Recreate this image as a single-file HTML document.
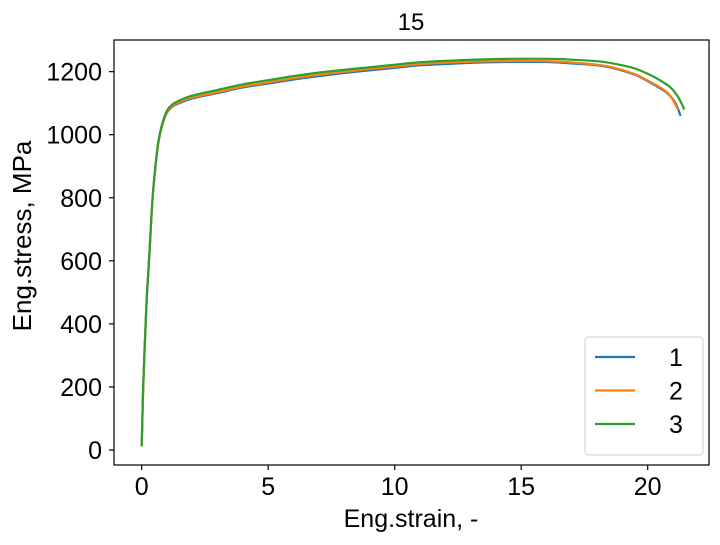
<!DOCTYPE html>
<html><head><meta charset="utf-8"><style>
body{margin:0;background:#fff;}
svg text{font-family:"Liberation Sans",Arial,sans-serif;fill:#000;}
</style></head><body>
<svg id="chart" width="720" height="540">
<rect x="0" y="0" width="720" height="540" fill="#fff"/>
<text x="411" y="30" font-size="24" text-anchor="middle">15</text>
<g id="plot"></g>
<rect x="114" y="40" width="595" height="425" fill="none" stroke="#000" stroke-width="1.2"/>
<g id="axes"></g>
<text x="411" y="527" font-size="25" text-anchor="middle">Eng.strain, -</text>
<text transform="translate(31,236) rotate(-90)" font-size="26" text-anchor="middle">Eng.stress, MPa</text>
<g>
<rect x="585" y="337" width="118" height="118" rx="4" fill="#fff" stroke="#ccc" stroke-width="1"/>
<g id="legend"></g>
</g>
</svg>
<script>
const xTicks=[0,5,10,15,20];
const yTicks=[0,200,400,600,800,1000,1200];
const seriesNames=["1","2","3"];
const seriesColors=["#1f77b4","#ff7f0e","#2ca02c"];
const strain1=[0,0.06,0.18,0.29,0.43,0.6,0.72,0.85,0.95,1.05,1.2,1.4,2,3,4,5,6,7,8.5,10,11,12.5,14,15.5,16.5,17,18,18.7,19.5,20,20.5,20.8,21.1,21.3];
const stress1=[12,200,450,600,800,940,1000,1040,1062,1076,1088,1097,1115,1132,1150,1162,1175,1186,1200,1212,1220,1226,1230,1231,1229,1226,1220,1210,1190,1170,1147,1130,1100,1060];
const strain2=[0,0.06,0.18,0.29,0.43,0.6,0.72,0.85,0.95,1.05,1.2,1.4,2,3,4,5,6,7,8.5,10,11,12.5,14,15.5,16.5,17,18,18.7,19.5,20,20.5,20.8,21.0,21.2];
const stress2=[12,200,450,600,800,940,1000,1040,1063,1078,1090,1100,1118,1135,1153,1166,1179,1190,1204,1216,1224,1230,1233,1234,1232,1229,1222,1212,1192,1172,1150,1132,1110,1078];
const strain3=[0,0.06,0.18,0.29,0.43,0.6,0.72,0.85,0.95,1.05,1.2,1.4,2,3,4,5,6,7,8.5,10,11,12.5,14,15.5,16.5,17,18,18.7,19.5,20,20.5,20.9,21.2,21.45];
const stress3=[12,200,450,600,800,945,1005,1045,1068,1083,1095,1105,1124,1142,1160,1173,1186,1197,1210,1222,1230,1236,1240,1241,1240,1238,1233,1225,1210,1193,1172,1150,1120,1080];
const strains=[strain1,strain2,strain3], stresses=[stress1,stress2,stress3];
const X=v=>141.7+v*25.3, Y=v=>450-v*0.3153;
const NS="http://www.w3.org/2000/svg";
function mk(t,a,p){const e=document.createElementNS(NS,t);for(const k in a)e.setAttribute(k,a[k]);p.appendChild(e);return e;}
function smooth(px,py){let d='M'+px[0].toFixed(1)+','+py[0].toFixed(1);for(let i=0;i<px.length-1;i++){const x0=px[i-1]??px[i],y0=py[i-1]??py[i],x3=px[i+2]??px[i+1],y3=py[i+2]??py[i+1];const c1x=px[i]+(px[i+1]-x0)/6,c1y=py[i]+(py[i+1]-y0)/6,c2x=px[i+1]-(x3-px[i])/6,c2y=py[i+1]-(y3-py[i])/6;d+='C'+c1x.toFixed(1)+','+c1y.toFixed(1)+' '+c2x.toFixed(1)+','+c2y.toFixed(1)+' '+px[i+1].toFixed(1)+','+py[i+1].toFixed(1);}return d;}
const axes=document.getElementById('axes'),plot=document.getElementById('plot'),leg=document.getElementById('legend');
xTicks.forEach(t=>{
 const l=mk('line',{x1:X(t),x2:X(t),y1:465,y2:470,stroke:'#000','stroke-width':1.2},axes);
 
 
 const tx=mk('text',{x:X(t),y:495,'font-size':25,'text-anchor':'middle'},axes);tx.textContent=t;
 
 
});
yTicks.forEach(t=>{
 const l=mk('line',{x1:109,x2:114,y1:Y(t),y2:Y(t),stroke:'#000','stroke-width':1.2},axes);
 
 
 const tx=mk('text',{x:102,y:Y(t)+9,'font-size':25,'text-anchor':'end'},axes);tx.textContent=t;
 
 
});
strains.forEach((s,i)=>{
 const d=smooth(s.map(X),stresses[i].map(Y));
 const p=mk('path',{d:d,fill:'none',stroke:seriesColors[i],'stroke-width':2.2,'stroke-linejoin':'round'},plot);
 
 
 const y=357+i*33.5;
 const l=mk('line',{x1:595,x2:635,y1:y,y2:y,stroke:seriesColors[i],'stroke-width':2.2},leg);
 
 
 const t=mk('text',{x:669,y:y+9,'font-size':25},leg);t.textContent=seriesNames[i];
 
 
});
</script>
</body></html>
